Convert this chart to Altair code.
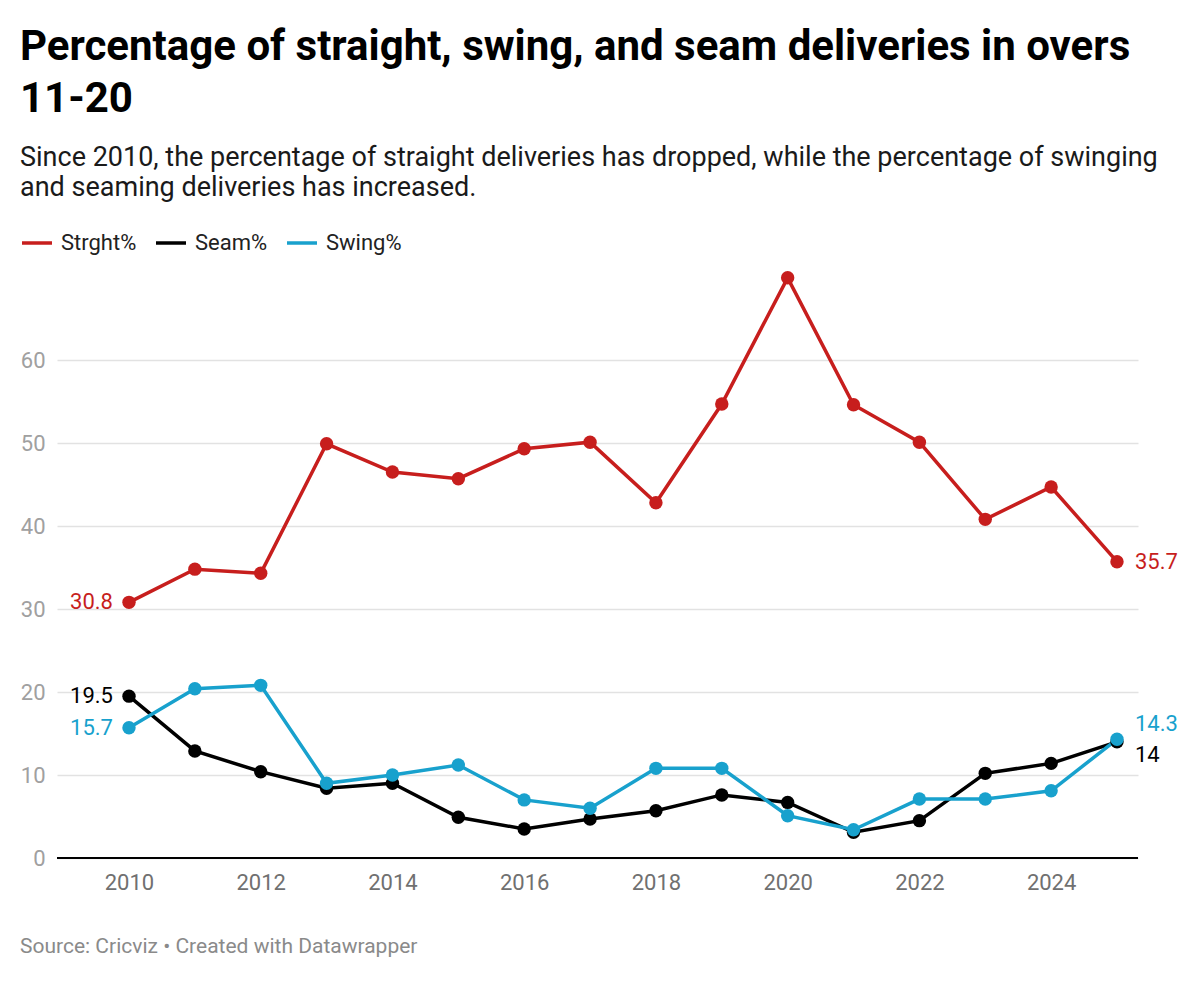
import altair as alt
import pandas as pd

years = list(range(2010, 2026))
straight = [30.8, 34.8, 34.3, 49.9, 46.5, 45.7, 49.3, 50.1, 42.8, 54.7, 69.9, 54.6, 50.1, 40.8, 44.7, 35.7]
seam = [19.5, 12.9, 10.4, 8.4, 9.0, 4.9, 3.5, 4.7, 5.7, 7.6, 6.7, 3.1, 4.5, 10.2, 11.4, 14.0]
swing = [15.7, 20.4, 20.8, 9.0, 10.0, 11.2, 7.0, 6.0, 10.8, 10.8, 5.1, 3.4, 7.1, 7.1, 8.1, 14.3]

series_names = ["Strght%", "Seam%", "Swing%"]
series_colors = ["#c71e1d", "#000000", "#18a1cd"]
label_colors = ["#c71e1d", "#000000", "#1491c2"]

rows = []
for name, vals in zip(series_names, [straight, seam, swing]):
    for yr, v in zip(years, vals):
        rows.append({"year": yr, "series": name, "value": v})
df = pd.DataFrame(rows)

W, H = 1081, 581
FONT = "Roboto"

xscale = alt.Scale(domain=[2008.907, 2025.319], nice=False, zero=False)
yscale = alt.Scale(domain=[0, 70], nice=False)
color = alt.Color(
    "series:N",
    scale=alt.Scale(domain=series_names, range=series_colors),
    legend=alt.Legend(
        title=None,
        orient="none",
        legendX=-37,
        legendY=-51,
        direction="horizontal",
        symbolType="stroke",
        symbolSize=900,
        symbolStrokeWidth=3.5,
        labelFontSize=22,
        labelFont=FONT,
        labelColor="#222222",
        labelOffset=7,
        columnPadding=12,
        symbolOffset=0,
    ),
)

base = alt.Chart(df)

x_enc = alt.X(
    "year:Q",
    scale=xscale,
    axis=alt.Axis(
        values=list(range(2010, 2026, 2)),
        format="d",
        title=None,
        grid=False,
        ticks=False,
        domain=False,
        labelFontSize=22,
        labelFont=FONT,
        labelColor="#707070",
        labelPadding=14,
    ),
)
y_enc = alt.Y(
    "value:Q",
    scale=yscale,
    axis=alt.Axis(
        values=[0, 10, 20, 30, 40, 50, 60],
        title=None,
        domain=False,
        ticks=False,
        gridColor="#e2e2e2",
        gridWidth=1.5,
        labelFontSize=22,
        labelFont=FONT,
        labelColor="#a0a0a0",
        labelPadding=12,
    ),
)

baseline = alt.Chart(pd.DataFrame({"v": [0]})).mark_rule(color="#000000", strokeWidth=2).encode(
    y=alt.Y("v:Q", scale=yscale), x=alt.value(0), x2=alt.value(W)
)

lines = base.mark_line(strokeWidth=3.5).encode(x=x_enc, y=y_enc, color=color, order="year:Q")
points = base.mark_point(filled=True, size=180, opacity=1).encode(
    x="year:Q", y="value:Q",
    color=alt.Color("series:N", scale=alt.Scale(domain=series_names, range=series_colors), legend=None),
)

def lab(frame, align, dx, dy):
    return alt.Chart(frame).mark_text(
        align=align, baseline="middle", dx=dx, dy=dy, fontSize=22, font=FONT
    ).encode(
        x="year:Q", y="value:Q", text=alt.Text("value:Q", format=".3~f"),
        color=alt.Color("series:N", scale=alt.Scale(domain=series_names, range=label_colors), legend=None),
    )

first = df[df.year == 2010]
last = df[df.year == 2025]
labels = (
    lab(first, "right", -16, 0)
    + lab(last[last.series == "Strght%"], "left", 18, 0)
    + lab(last[last.series == "Swing%"], "left", 18, -15)
    + lab(last[last.series == "Seam%"], "left", 18, 13)
)

source = alt.Chart(pd.DataFrame({"t": ["Source: Cricviz • Created with Datawrapper"]})).mark_text(
    align="left", baseline="middle", fontSize=21, font=FONT, color="#8a8a8a"
).encode(text="t:N", x=alt.value(-37), y=alt.value(670))

chart = (
    alt.layer(baseline, lines, points, labels, source)
    .properties(
        width=W,
        height=H,
        autosize=alt.AutoSizeParams(type="none"),
        padding={"left": 49, "top": 269, "right": 54, "bottom": 115},
        title=alt.Title(
            text=["Percentage of straight, swing, and seam deliveries in overs", "11-20"],
            subtitle=[
                "Since 2010, the percentage of straight deliveries has dropped, while the percentage of swinging",
                "and seaming deliveries has increased.",
            ],
            anchor="start",
            frame="group",
            dx=-37,
            offset=24,
            font=FONT,
            fontSize=42,
            fontWeight="bold",
            color="#000000",
            lineHeight=52,
            subtitleFont=FONT,
            subtitleFontSize=27,
            subtitleColor="#1a1a1a",
            subtitleLineHeight=30,
            subtitlePadding=24,
        ),
    )
    .configure_view(stroke=None)
)

chart.save("out.html", embed_options={"renderer": "svg", "actions": False})
